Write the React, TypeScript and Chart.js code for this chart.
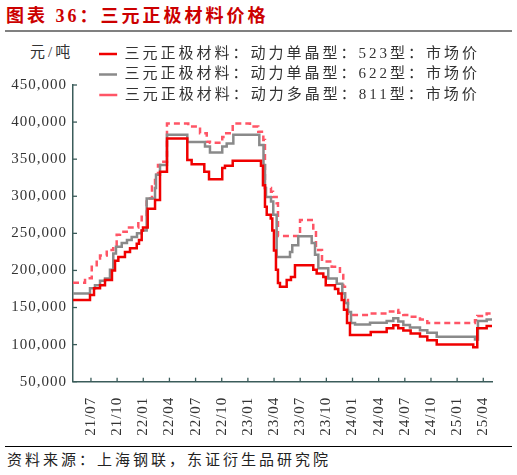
import React, { useEffect, useRef } from 'react';
import { Chart, registerables } from 'chart.js';

Chart.register(...registerables);

// ---------------- data ----------------
const seriesNames = [
  '三元正极材料：动力单晶型：523型：市场价',
  '三元正极材料：动力单晶型：622型：市场价',
  '三元正极材料：动力多晶型：811型：市场价',
];

const tickLabels = [
  '21/07', '21/10', '22/01', '22/04', '22/07', '22/10', '23/01', '23/04',
  '23/07', '23/10', '24/01', '24/04', '24/07', '24/10', '25/01', '25/04',
];

// x values: months since Jan 2021 (fractional), each value holds until the next point
const xMin = 3.94;
const xMax = 52.0;

const months523 = [
  3.94, 5.89, 6.35, 7.04, 7.61, 8.41, 8.76, 9.14, 9.9, 10.48, 11.25, 11.51, 11.82, 11.97,
  12.51, 13.35, 13.92, 14.72, 17.05, 17.55, 19.0, 19.54, 21.06, 21.37, 22.26, 25.5,
  25.73, 25.96, 26.16, 26.62, 26.8, 26.99, 27.22, 27.45, 27.68, 28.45, 28.94, 29.4,
  31.5, 31.89, 32.65, 32.93, 33.99, 34.37, 34.76, 35.02, 35.37, 35.71, 38.09, 39.92,
  40.68, 41.25, 41.83, 42.67, 43.74, 44.58, 45.66, 49.85, 50.31, 51.39, 52.0,
];
const values523 = [
  160000, 167000, 176000, 180000, 187000, 200000, 213000, 218000, 225000, 230000, 236000, 241000, 254000, 258000,
  283000, 295000, 333000, 378000, 349000, 343000, 333000, 323000, 338000, 341000, 348000, 341000,
  315000, 286000, 275000, 270000, 254000, 227000, 201000, 183000, 178000, 187000, 191000, 207000,
  201000, 196000, 191000, 180000, 175000, 169000, 160000, 147000, 129000, 113000, 117000, 122000,
  126000, 122000, 119000, 115000, 111000, 106000, 100000, 96500, 122000, 125000, 125000,
];

const months622 = [
  3.94, 5.89, 6.46, 7.04, 7.61, 8.18, 8.56, 8.87, 9.53, 10.13, 10.67, 11.28, 11.82, 12.39,
  13.35, 13.46, 13.92, 14.72, 17.05, 19.08, 19.65, 21.06, 21.57, 22.33, 25.31, 25.79,
  25.96, 26.08, 26.65, 26.91, 27.3, 28.83, 29.09, 29.78, 31.32, 31.7, 32.08, 33.22,
  34.19, 34.83, 35.14, 35.48, 35.83, 36.29, 38.01, 39.92, 40.68, 41.25, 41.83, 42.59,
  43.74, 44.58, 45.66, 50.05, 50.39, 51.39, 52.0,
];
const values622 = [
  169000, 176000, 180000, 186000, 189000, 201000, 223000, 232000, 237000, 241000, 245000, 250000, 254000, 297000,
  311000, 329000, 342000, 383000, 373000, 367000, 359000, 367000, 371000, 383000, 369000, 342000,
  311000, 299000, 293000, 275000, 218000, 225000, 234000, 246000, 237000, 221000, 203000, 189000,
  182000, 169000, 156000, 144000, 129000, 127000, 129500, 132000, 135500, 131000, 126500, 123000,
  119500, 116000, 110500, 107000, 132000, 134000, 134000,
];

const months811 = [
  3.94, 5.32, 6.09, 6.66, 7.04, 7.81, 8.56, 8.95, 9.33, 10.1, 11.43, 11.82, 12.39, 13.0,
  13.35, 13.69, 13.92, 14.72, 17.16, 18.51, 19.28, 19.65, 21.06, 21.37, 22.26, 24.24,
  25.19, 25.77, 25.96, 26.65, 26.88, 27.3, 27.45, 29.98, 31.5, 31.81, 32.5, 33.61,
  34.56, 34.94, 35.14, 35.48, 38.01, 39.92, 40.68, 41.25, 41.83, 42.59, 43.74, 44.58,
  50.05, 50.31, 51.39, 52.0,
];
const values811 = [
  183500, 189500, 205000, 216000, 220000, 227500, 234000, 248000, 252000, 258000, 265500, 272500, 297000, 313000,
  329000, 342000, 346500, 398000, 394000, 385000, 373500, 372000, 380000, 385000, 398000, 394000,
  387000, 376000, 311000, 306000, 299000, 290500, 246500, 268000, 254500, 227500, 212000, 205000,
  194000, 178000, 160000, 140000, 142000, 144500, 146500, 143000, 140000, 137500, 134000, 129000,
  133000, 138500, 142000, 142000,
];

const yMin = 50000;
const yMax = 450000;
const yStep = 50000;

// ---------------- styles ----------------
const RED = '#f00000';
const GRAY = '#8a8a8a';
const PINK = '#ff5566';
const AXIS = '#3b5c5a';
const TEXT = '#333333';
const FONT = "'Liberation Serif', 'Noto Sans CJK SC', serif";
const LEGEND_SHIFT = 7;

const tickMonths = tickLabels.map((l) => {
  const [yy, mm] = l.split('/').map(Number);
  return (yy - 21) * 12 + (mm - 1);
});

const toPoints = (xs: number[], ys: number[]) => xs.map((x, i) => ({ x, y: ys[i] }));

const spacingPlugin = {
  id: 'spacingPlugin',
  beforeLayout(chart: any) {
    chart.ctx.letterSpacing = '1px';
    const lg = chart.legend;
    if (lg && !lg.__wrapped) {
      lg.__wrapped = true;
      const fit = lg.fit;
      const draw = lg.draw;
      lg.fit = function (this: any, ...args: any[]) {
        const c = chart.ctx as any;
        const prev = c.letterSpacing;
        c.letterSpacing = '3px';
        try {
          return fit.apply(this, args);
        } finally {
          c.letterSpacing = prev;
        }
      };
      lg.draw = function (this: any, ...args: any[]) {
        const c = chart.ctx as any;
        const prev = c.letterSpacing;
        const saved = { left: this.left, right: this.right, bottom: this.bottom, height: this.height };
        c.letterSpacing = '3px';
        this.left += LEGEND_SHIFT;
        this.right += LEGEND_SHIFT;
        this.height += 40;
        this.bottom += 40;
        try {
          return draw.apply(this, args);
        } finally {
          Object.assign(this, saved);
          c.letterSpacing = prev;
        }
      };
    }
  },
  beforeDraw(chart: any) {
    chart.ctx.letterSpacing = '1px';
  },
};

const innerTicks = {
  id: 'innerTicks',
  afterDatasetsDraw(chart: any) {
    const { ctx, chartArea, scales } = chart;
    ctx.save();
    ctx.strokeStyle = AXIS;
    ctx.lineWidth = 1.3;
    scales.x.ticks.forEach((t: any) => {
      const px = scales.x.getPixelForValue(t.value);
      ctx.beginPath();
      ctx.moveTo(px, chartArea.bottom);
      ctx.lineTo(px, chartArea.bottom - 4);
      ctx.stroke();
    });
    scales.y.ticks.forEach((t: any) => {
      const py = scales.y.getPixelForValue(t.value);
      ctx.beginPath();
      ctx.moveTo(chartArea.left, py);
      ctx.lineTo(chartArea.left + 4, py);
      ctx.stroke();
    });
    ctx.restore();
  },
};

export default function App() {
  const ref = useRef<HTMLCanvasElement | null>(null);

  useEffect(() => {
    if (!ref.current) return;
    const chart = new Chart(ref.current, {
      type: 'line',
      data: {
        datasets: [
          {
            label: seriesNames[0],
            data: toPoints(months523, values523),
            borderColor: RED,
            backgroundColor: RED,
            borderWidth: 2.5,
            pointRadius: 0,
            stepped: true,
            fill: false,
          },
          {
            label: seriesNames[1],
            data: toPoints(months622, values622),
            borderColor: GRAY,
            backgroundColor: GRAY,
            borderWidth: 2.5,
            pointRadius: 0,
            stepped: true,
            fill: false,
          },
          {
            label: seriesNames[2],
            data: toPoints(months811, values811),
            borderColor: PINK,
            backgroundColor: PINK,
            borderWidth: 2.5,
            borderDash: [6, 4],
            pointRadius: 0,
            stepped: true,
            fill: false,
          },
        ],
      },
      options: {
        animation: false,
        responsive: false,
        layout: { padding: { top: 5, right: 25, left: 0, bottom: 0 } },
        plugins: {
          legend: {
            position: 'top',
            fullSize: false,
            maxHeight: 44,
            align: 'center',
            labels: {
              usePointStyle: true,
              pointStyle: 'line',
              pointStyleWidth: 18,
              boxWidth: 18,
              padding: 5.5,
              color: TEXT,
              font: { family: FONT, size: 15 },
            },
          },
          tooltip: { enabled: false },
        },
        scales: {
          x: {
            type: 'linear',
            min: xMin,
            max: xMax,
            afterBuildTicks: (scale: any) => {
              scale.ticks = tickMonths.map((v) => ({ value: v }));
            },
            afterFit: (scale: any) => {
              scale.height = 62.3;
            },
            grid: { display: false, drawTicks: false },
            border: { display: true, color: AXIS, width: 1.5 },
            ticks: {
              autoSkip: false,
              maxRotation: 90,
              minRotation: 90,
              padding: 15,
              color: TEXT,
              font: { family: FONT, size: 15 },
              callback: (v: any) => {
                const i = tickMonths.indexOf(Number(v));
                return i >= 0 ? tickLabels[i] : '';
              },
            },
          },
          y: {
            min: yMin,
            max: yMax,
            afterFit: (scale: any) => {
              scale.width = 73;
            },
            grid: { display: false, drawTicks: false },
            border: { display: true, color: AXIS, width: 1.5 },
            ticks: {
              stepSize: yStep,
              padding: 6,
              color: TEXT,
              font: { family: FONT, size: 15 },
              callback: (v: any) => Number(v).toLocaleString('en-US'),
            },
          },
        },
      } as any,
      plugins: [spacingPlugin, innerTicks],
    });
    return () => chart.destroy();
  }, []);

  return (
    <div style={{ position: 'absolute', left: 0, top: 0, width: 517, height: 475, background: '#fff', overflow: 'hidden' }}>
      <div
        style={{
          position: 'absolute', left: 6, top: 5, lineHeight: '22px', fontSize: 18, fontWeight: 'bold',
          color: '#cc0000', fontFamily: FONT, letterSpacing: '3px', whiteSpace: 'nowrap',
        }}
      >
        图表 36：三元正极材料价格
      </div>
      <div style={{ position: 'absolute', left: 5, top: 30, width: 507, height: 2, background: '#808080' }} />
      <div
        style={{
          position: 'absolute', left: 30, top: 43, lineHeight: '18px', fontSize: 15, color: TEXT,
          fontFamily: FONT, letterSpacing: '3px', whiteSpace: 'nowrap',
        }}
      >
        元/吨
      </div>
      <canvas ref={ref} width={517} height={408} style={{ position: 'absolute', left: 0, top: 36 }} />
      <div style={{ position: 'absolute', left: 5, top: 446, width: 507, height: 1, background: '#000' }} />
      <div
        style={{
          position: 'absolute', left: 7, top: 450, lineHeight: '20px', fontSize: 15, color: '#222',
          fontFamily: FONT, letterSpacing: '3px', whiteSpace: 'nowrap',
        }}
      >
        资料来源：上海钢联，东证衍生品研究院
      </div>
    </div>
  );
}
